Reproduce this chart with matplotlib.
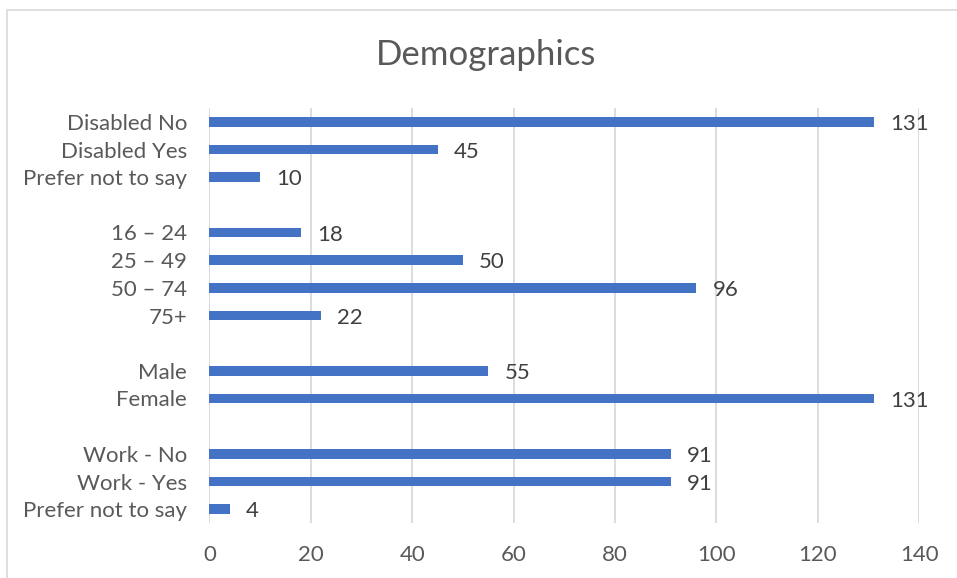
import matplotlib
matplotlib.use("Agg")
import matplotlib.pyplot as plt
from matplotlib.patches import Rectangle

categories = ["Disabled No", "Disabled Yes", "Prefer not to say", "",
              "16 – 24", "25 – 49", "50 – 74", "75+", "",
              "Male", "Female", "",
              "Work - No", "Work - Yes", "Prefer not to say"]
values = [131, 45, 10, None, 18, 50, 96, 22, None, 55, 131, None, 91, 91, 4]
xticks = [0, 20, 40, 60, 80, 100, 120, 140]

plt.rcParams['font.family'] = ['Lato', 'DejaVu Sans']
txt = '#595959'

W, H = 957, 578
fig = plt.figure(figsize=(W/100, H/100), dpi=100)
fig.patches.append(Rectangle((7/W, -0.05), (W-7)/W + 0.05, (H-10)/H + 0.05, transform=fig.transFigure,
                             fill=False, edgecolor='#d9d9d9', linewidth=1.2))

left, right, top, bottom = 209.4, 919.3, 108, 523
ax = fig.add_axes([left/W, 1-bottom/H, (right-left)/W, (bottom-top)/H])
n = len(categories)
ys = list(range(n))
for y, v in zip(ys, values):
    if v is None:
        continue
    ax.barh(y, v, height=0.36, color='#4472C4', zorder=3)
    ax.text(v + 3.2, y + 0.08, str(v), va='center', ha='left', fontsize=16, color='#404040')
ax.set_ylim(n - 0.5, -0.5)
ax.set_xlim(0, 140)
ax.set_yticks(ys)
ax.set_yticklabels(categories)
ax.set_xticks(xticks)
ax.tick_params(axis='both', length=0, labelsize=16, colors=txt)
ax.tick_params(axis='y', pad=16)
ax.tick_params(axis='x', pad=16)
ax.grid(axis='x', color='#d9d9d9', linewidth=1.3, zorder=0)
for s in ax.spines.values():
    s.set_visible(False)
fig.text(486/W, 1-55/H, "Demographics", ha='center', va='center', fontsize=25, color=txt)
fig.savefig("out.png", dpi=100)
